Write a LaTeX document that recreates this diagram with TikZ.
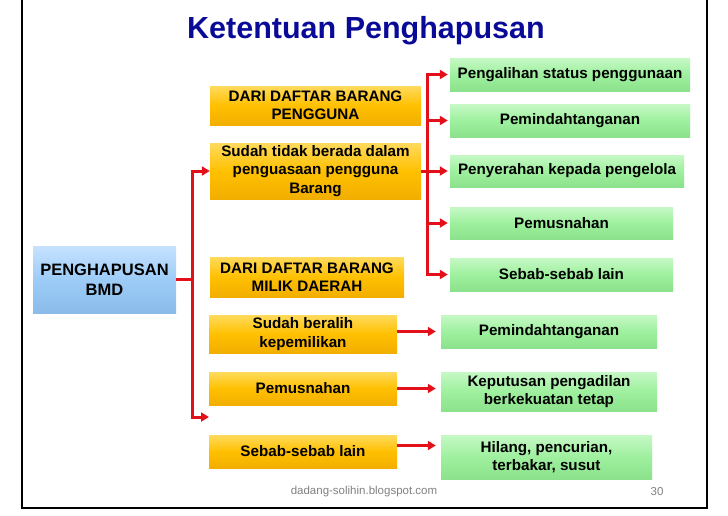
\documentclass[tikz,border=0pt]{standalone}
\usepackage{fontspec}
\setmainfont{Liberation Sans}
\usetikzlibrary{arrows.meta,calc}
\definecolor{titleblue}{HTML}{0A0A99}
\definecolor{oTop}{HTML}{FFDA5C}
\definecolor{oMid}{HTML}{FFC000}
\definecolor{oBot}{HTML}{F2AE00}
\definecolor{gTop}{HTML}{C6F8C6}
\definecolor{gMid}{HTML}{9EF09E}
\definecolor{gBot}{HTML}{8CE28C}
\definecolor{bTop}{HTML}{C6E2FF}
\definecolor{bMid}{HTML}{9DCCF7}
\definecolor{bBot}{HTML}{8ABCEA}
\definecolor{arrred}{HTML}{E3101A}
\definecolor{footgray}{HTML}{808080}
\tikzset{
  boxbase/.style={inner sep=0pt, align=center, text=black,
    font=\bfseries\fontsize{15.2}{18.5}\selectfont},
  obox/.style={boxbase, top color=oTop, bottom color=oBot, middle color=oMid},
  gbox/.style={boxbase, top color=gTop, bottom color=gBot, middle color=gMid},
  bbox/.style={boxbase, top color=bTop, bottom color=bBot, middle color=bMid,
    font=\bfseries\fontsize{16.5}{20.5}\selectfont},
  redline/.style={draw=arrred, line width=3pt},
  redarrow/.style={redline, -{Triangle[length=8pt,width=9pt]}},
  frameline/.style={draw=black, line width=1.3pt},
}
\newcommand{\bx}[6]{% style, name, x1, y1, x2, y2, text
  \node[#1, minimum width={#5-#3}, minimum height={#6-#4}] (#2) at ({(#3+#5)/2},{(#4+#6)/2})}
\begin{document}
\begin{tikzpicture}[x=1pt,y=-1pt]
\useasboundingbox (0,0) rectangle (728,515);
% frame
\draw[frameline] (22,0) -- (22,508) -- (707,508) -- (707,0);
% title
\node[font=\bfseries\fontsize{30.5}{32}\selectfont, text=titleblue] (title) at (366,31) {Ketentuan Penghapusan};
% blue
\bx{bbox}{bmd}{33}{246}{176}{313} {PENGHAPUSAN\\BMD};
% orange
\bx{obox}{o1}{210}{86}{421}{125} {DARI DAFTAR BARANG\\PENGGUNA};
\bx{obox}{o2}{210}{143}{421}{199} {Sudah tidak berada dalam\\penguasaan pengguna\\Barang};
\bx{obox}{o3}{210}{257}{404}{297} {DARI DAFTAR BARANG\\MILIK DAERAH};
\bx{obox}{o4}{209}{315}{397}{353} {Sudah beralih\\kepemilikan};
\bx{obox}{o5}{209}{372}{397}{405} {Pemusnahan};
\bx{obox}{o6}{209}{435}{397}{468} {Sebab-sebab lain};
% green
\bx{gbox}{g1}{450}{58}{690}{91} {Pengalihan status penggunaan};
\bx{gbox}{g2}{450}{104}{690}{137} {Pemindahtanganan};
\bx{gbox}{g3}{450}{155}{684}{187} {Penyerahan kepada pengelola};
\bx{gbox}{g4}{450}{207}{673}{239} {Pemusnahan};
\bx{gbox}{g5}{450}{258}{673}{291} {Sebab-sebab lain};
\bx{gbox}{g6}{441}{315}{657}{348} {Pemindahtanganan};
\bx{gbox}{g7}{441}{372}{657}{411} {Keputusan pengadilan\\berkekuatan tetap};
\bx{gbox}{g8}{441}{435}{652}{479} {Hilang, pencurian,\\terbakar, susut};
% left bracket
\coordinate (lbj) at (192,279.5);
\coordinate (lbend) at (209,417);
\draw[redline] (bmd.east) -- (lbj);
\draw[redarrow] (lbj) |- (o2.west);
\draw[redarrow] (lbj) |- (lbend);
% right bracket
\coordinate (rbj) at (427,171);
\draw[redline] (o2.east) -- (rbj);
\draw[redarrow, shorten >=2pt] (rbj) |- (g1.west);
\draw[redarrow, shorten >=2pt] (rbj) |- (g2.west);
\draw[redarrow, shorten >=2pt] (rbj) -- (g3.west);
\draw[redarrow, shorten >=2pt] (rbj) |- (g4.west);
\draw[redarrow, shorten >=2pt] (rbj) |- (g5.west);
% lower arrows
\draw[redarrow, shorten >=5pt] (g6.west -| o4.east) -- (g6.west);
\draw[redarrow, shorten >=5pt] (o5.east) -- (o5.east -| g7.west);
\draw[redarrow, shorten >=5pt] ([yshift=6pt]o6.east) -- ([yshift=6pt]o6.east -| g8.west);
% footer
\node[text=footgray, font=\fontsize{11.5}{13}\selectfont] (foot) at (364,492) {dadang-solihin.blogspot.com};
\node[text=footgray, font=\fontsize{11.5}{13}\selectfont] (pnum) at (657,492) {30};
\end{tikzpicture}
\end{document}
